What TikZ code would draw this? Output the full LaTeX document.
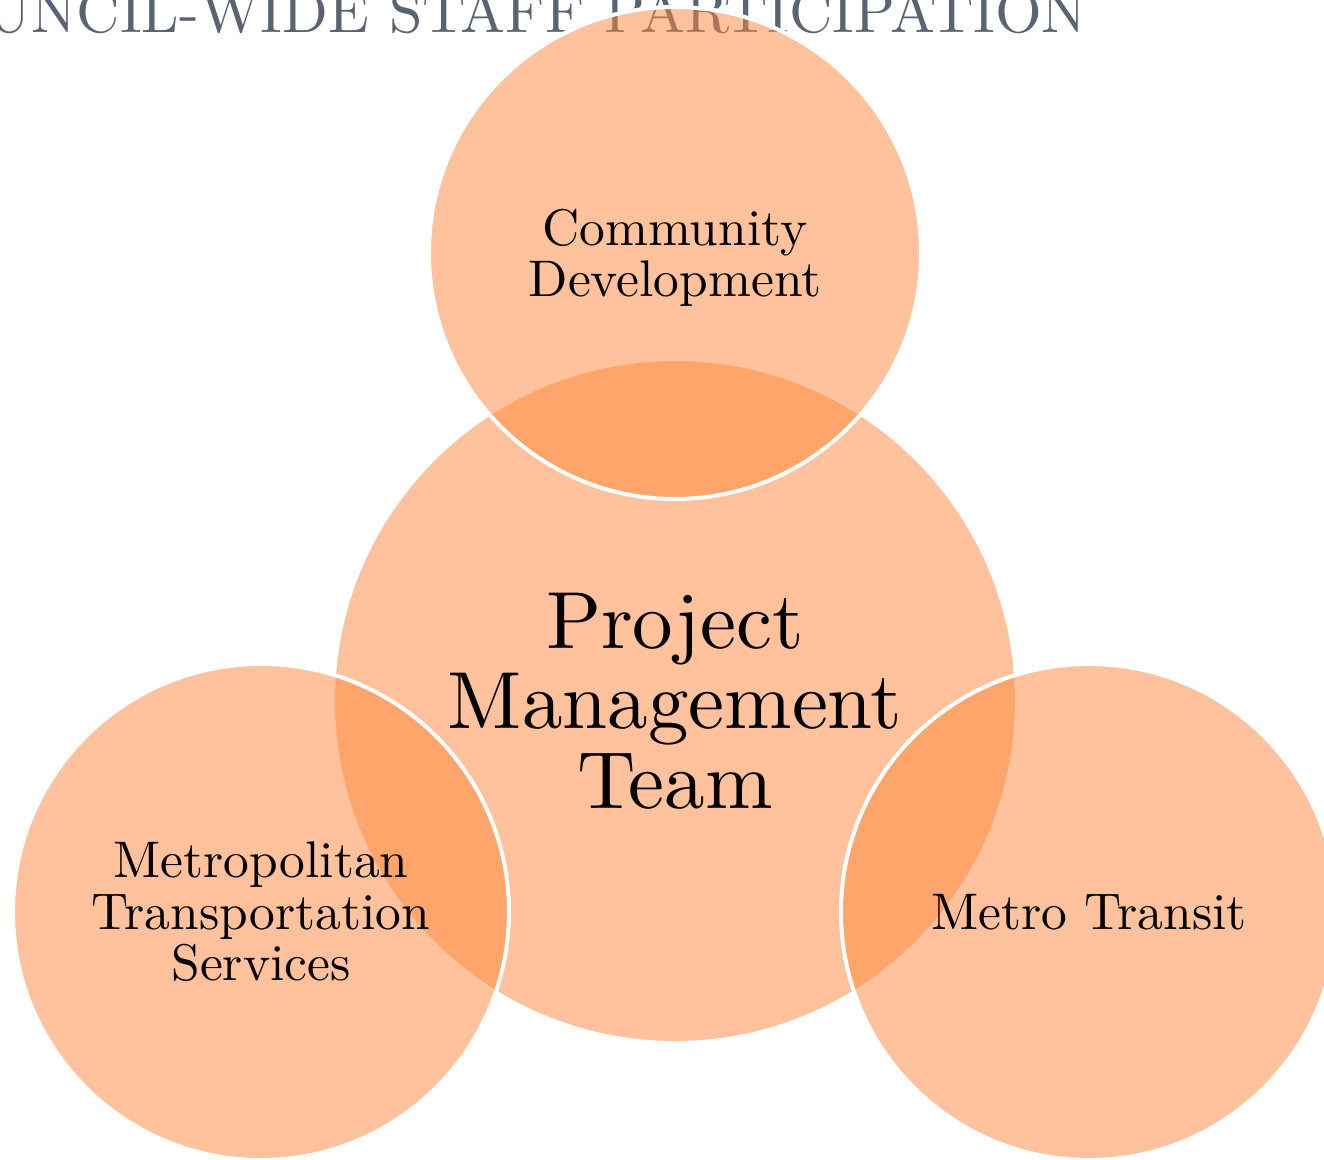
\documentclass[tikz,border=0pt]{standalone}
\definecolor{circfill}{RGB}{255,135,59}
\definecolor{titlegrey}{RGB}{90,99,115}
\tikzset{
  venn/.style={circle, draw=white, line width=4pt, fill=circfill, fill opacity=0.5, draw opacity=1, inner sep=0pt, outer sep=0pt},
  lbl/.style={align=center, font=\fontsize{10}{10}\selectfont, text=black, scale=5.15, inner sep=0pt},
  biglbl/.style={align=center, font=\fontsize{10}{9.9}\selectfont, text=black, scale=8.1, inner sep=0pt},
  titlestyle/.style={font=\fontsize{10}{10}\selectfont, text=titlegrey, xscale=6.0, yscale=6.0, inner sep=0pt}
}
\begin{document}
\begin{tikzpicture}[x=1pt,y=-1pt]
\useasboundingbox (0,0) rectangle (1324,1159);
\clip (0,0) rectangle (1324,1159);
\fill[white] (0,0) rectangle (1324,1159);
\node[titlestyle, anchor=base east] (title) at (1088,32.5) {COUNCIL-WIDE STAFF PARTICIPATION};
\node[venn, minimum size=684pt] (pmt) at (675,701) {};
\node[venn, minimum size=492pt] (cd) at (675,253) {};
\node[venn, minimum size=496pt] (mts) at (261,912) {};
\node[venn, minimum size=496pt] (mt) at (1089,912) {};
\node[biglbl] (pmtl) at (pmt.center) {Project\\Management\\Team};
\node[lbl] (cdl) at ([yshift=-5pt]cd.center) {Community\\Development};
\node[lbl] (mtsl) at (mts.center) {Metropolitan\\Transportation\\Services};
\node[lbl] (mtl) at (mt.center) {Metro Transit};
\end{tikzpicture}
\end{document}
